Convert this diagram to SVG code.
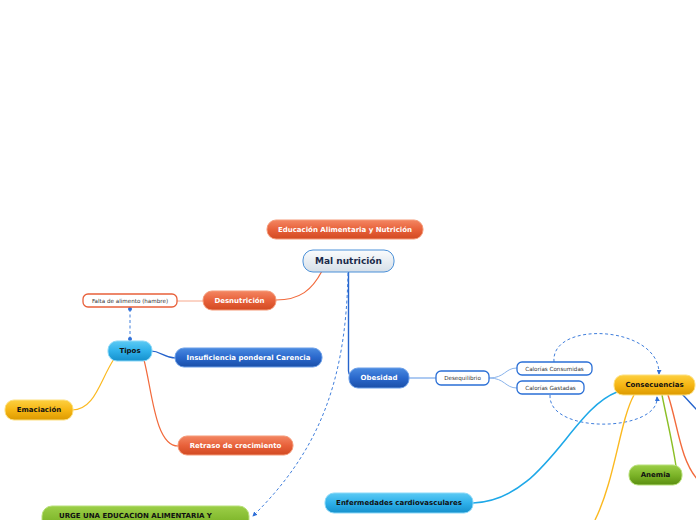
<svg xmlns="http://www.w3.org/2000/svg" width="696" height="520" viewBox="0 0 696 520">
<defs>
<linearGradient id="gOr" x1="0" y1="0" x2="0" y2="1"><stop offset="0" stop-color="#f38662"/><stop offset="0.5" stop-color="#e8613a"/><stop offset="1" stop-color="#d24a22"/></linearGradient>
<linearGradient id="gBl" x1="0" y1="0" x2="0" y2="1"><stop offset="0" stop-color="#4a8ae0"/><stop offset="0.5" stop-color="#2a68cc"/><stop offset="1" stop-color="#1a4fa8"/></linearGradient>
<linearGradient id="gLb" x1="0" y1="0" x2="0" y2="1"><stop offset="0" stop-color="#5ccaf4"/><stop offset="0.5" stop-color="#2eb0ea"/><stop offset="1" stop-color="#1590cc"/></linearGradient>
<linearGradient id="gYe" x1="0" y1="0" x2="0" y2="1"><stop offset="0" stop-color="#fdd040"/><stop offset="0.5" stop-color="#f6b614"/><stop offset="1" stop-color="#dc9a00"/></linearGradient>
<linearGradient id="gGr" x1="0" y1="0" x2="0" y2="1"><stop offset="0" stop-color="#9ccf48"/><stop offset="0.5" stop-color="#7cb428"/><stop offset="1" stop-color="#5a8e10"/></linearGradient>
<linearGradient id="gWh" x1="0" y1="0" x2="0" y2="1"><stop offset="0" stop-color="#fbfcfd"/><stop offset="1" stop-color="#d6dfe8"/></linearGradient>
<marker id="arr" viewBox="0 0 6 6" refX="5" refY="3" markerWidth="5" markerHeight="5" orient="auto" markerUnits="userSpaceOnUse"><path d="M0,0 L6,3 L0,6 z" fill="#2f6fd8"/></marker>
<marker id="dot" viewBox="0 0 4 4" refX="2" refY="2" markerWidth="4" markerHeight="4" markerUnits="userSpaceOnUse"><circle cx="2" cy="2" r="2" fill="#2f6fd8"/></marker>
</defs>
<style>
text{font-family:"DejaVu Sans","Verdana",sans-serif;text-anchor:middle;dominant-baseline:central}
.b{font-weight:bold;font-size:7px}
.w{fill:#ffffff}
.k{fill:#111111}
.s{font-size:5.6px;fill:#333333}
.or{fill:url(#gOr);stroke:#f59a78;stroke-width:1}
.bl{fill:url(#gBl);stroke:#6a9ee8;stroke-width:1}
.lb{fill:url(#gLb);stroke:#8ad8f8;stroke-width:1}
.ye{fill:url(#gYe);stroke:#fde080;stroke-width:1}
.gr{fill:url(#gGr);stroke:#b8e07a;stroke-width:1}
.wb{fill:#ffffff;stroke:#2a6fd6;stroke-width:1.3}
.wo{fill:#ffffff;stroke:#e8603a;stroke-width:1.3}
.c{fill:none}
.dash{fill:none;stroke:#3f7edc;stroke-width:1;stroke-dasharray:3 2.5}
</style>
<g id="connectors">
<path class="c" d="M 322 271 C 312 290, 300 300, 276 300" stroke="#f26a3c" stroke-width="1.2"/>
<path class="c" d="M 177 301 L 203 301" stroke="#f7a88c" stroke-width="1"/>
<path class="c" d="M 348.5 272 L 348.5 371 Q 349 378 356 378" stroke="#2563cc" stroke-width="1.4"/>
<path class="dash" d="M 348 273 C 346 380, 320 450, 253 516" marker-end="url(#arr)"/>
<path class="dash" d="M 130 309 L 130 339" marker-start="url(#dot)" marker-end="url(#dot)"/>
<path class="c" d="M 150 351 C 162 351, 163 358, 176 358" stroke="#2563cc" stroke-width="1.2"/>
<path class="c" d="M 114 359 C 100 380, 95 410, 72 410" stroke="#fbb920" stroke-width="1.2"/>
<path class="c" d="M 144 360 C 152 390, 155 446, 178 446" stroke="#f26a3c" stroke-width="1.2"/>
<path class="c" d="M 409 378 L 436 378" stroke="#8ab4ec" stroke-width="1.4"/>
<path class="c" d="M 489 378 C 505 378, 505 368, 517 368" stroke="#8ab4ec" stroke-width="1"/>
<path class="c" d="M 489 378 C 505 378, 505 388, 517 388" stroke="#8ab4ec" stroke-width="1"/>
<path class="dash" d="M 554 362 C 550 320, 660 325, 659 374" marker-end="url(#arr)"/>
<path class="dash" d="M 550 395 C 548 435, 660 432, 657 397" marker-end="url(#arr)"/>
<path class="c" d="M 617 392 C 570 410, 545 500, 473 503" stroke="#1ea8e8" stroke-width="1.6"/>
<path class="c" d="M 634 395 C 620 420, 615 480, 595 520" stroke="#fbb920" stroke-width="1.4"/>
<path class="c" d="M 662 395 C 667 420, 672 440, 676 466" stroke="#8cbf26" stroke-width="1.4"/>
<path class="c" d="M 668 395 C 678 425, 680 460, 698 480" stroke="#f26a3c" stroke-width="1.4"/>
<path class="c" d="M 681 393 C 688 400, 692 405, 698 411" stroke="#2563cc" stroke-width="1.4"/>
</g>
<g id="edu"><rect class="or" x="267" y="220" width="156" height="19" rx="9"/><text class="b w" x="345" y="229.5">Educación Alimentaria y Nutrición</text></g>
<g id="mal"><rect x="303" y="250" width="91" height="22" rx="10" fill="url(#gWh)" stroke="#4a90d8" stroke-width="1"/><text x="348.5" y="261" font-size="9" font-weight="bold" fill="#1a2a4a">Mal nutrición</text></g>
<g id="desn"><rect class="or" x="203" y="291" width="73" height="19" rx="9"/><text class="b w" x="239.5" y="300.5">Desnutrición</text></g>
<g id="falta"><rect class="wo" x="83" y="294" width="94" height="13" rx="5"/><text class="s" x="130" y="300.5">Falta de alimento (hambre)</text></g>
<g id="tipos"><rect class="lb" x="108" y="341" width="44" height="20" rx="9"/><text class="b k" x="130" y="351">Tipos</text></g>
<g id="insuf"><rect class="bl" x="175" y="348" width="147" height="19" rx="9"/><text class="b w" x="248.5" y="357.5">Insuficiencia ponderal Carencia</text></g>
<g id="emac"><rect class="ye" x="5" y="400" width="68" height="20" rx="9"/><text class="b k" x="39" y="410">Emaciación</text></g>
<g id="retraso"><rect class="or" x="178" y="436" width="115" height="19" rx="9"/><text class="b w" x="235.5" y="445.5">Retraso de crecimiento</text></g>
<g id="obes"><rect class="bl" x="349" y="368" width="60" height="20" rx="9"/><text class="b w" x="379" y="378">Obesidad</text></g>
<g id="deseq"><rect class="wb" x="436" y="371" width="53" height="14" rx="5"/><text class="s" x="462.5" y="378">Desequilibrio</text></g>
<g id="calcons"><rect class="wb" x="517" y="362" width="75" height="13" rx="5"/><text class="s" x="554.5" y="368.5">Calorías Consumidas</text></g>
<g id="calgast"><rect class="wb" x="517" y="381" width="67" height="13" rx="5"/><text class="s" x="550.5" y="387.5">Calorías Gastadas</text></g>
<g id="conseq"><rect class="ye" x="614" y="375" width="81" height="20" rx="9"/><text class="b k" x="654.5" y="385">Consecuencias</text></g>
<g id="anemia"><rect class="gr" x="629" y="465" width="53" height="20" rx="9"/><text class="b k" x="655.5" y="475">Anemia</text></g>
<g id="enferm"><rect class="lb" x="325" y="493" width="148" height="20" rx="9"/><text class="b k" x="399" y="503">Enfermedades cardiovasculares</text></g>
<g id="urge"><rect class="gr" x="42" y="506" width="207" height="34" rx="10"/><text class="b k" x="59" y="516" style="text-anchor:start">URGE UNA EDUCACION ALIMENTARIA Y</text></g>
</svg>
